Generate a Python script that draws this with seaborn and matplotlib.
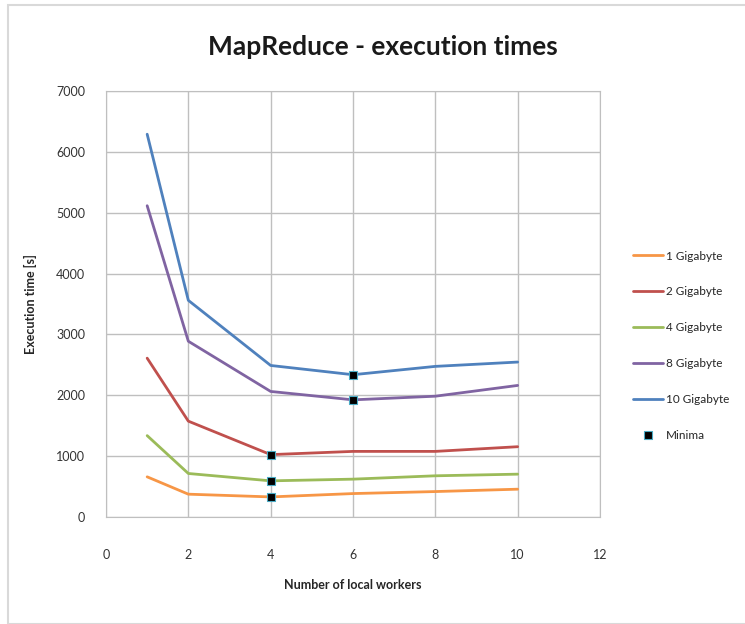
import matplotlib
matplotlib.use("Agg")
import matplotlib.pyplot as plt
import seaborn as sns
import pandas as pd
from matplotlib.patches import Rectangle

workers = [1, 2, 4, 6, 8, 10]
series_names = ["1 Gigabyte", "2 Gigabyte", "4 Gigabyte", "8 Gigabyte", "10 Gigabyte"]
gb1 = [660, 375, 330, 385, 418, 457]
gb2 = [2610, 1575, 1025, 1078, 1078, 1155]
gb4 = [1337, 715, 594, 622, 677, 704]
gb8 = [5115, 2888, 2063, 1925, 1985, 2162]
gb10 = [6290, 3560, 2490, 2338, 2475, 2546]
minima_x = [4, 4, 4, 6, 6]
minima_y = [330, 594, 1025, 1925, 2338]
colors = ["#F79646", "#C0504D", "#9BBB59", "#8064A2", "#4F81BD"]

rows = []
for name, vals in zip(series_names, [gb1, gb2, gb4, gb8, gb10]):
    for w, v in zip(workers, vals):
        rows.append({"workers": w, "time": v, "series": name})
df = pd.DataFrame(rows)
mdf = pd.DataFrame({"workers": minima_x, "time": minima_y, "series": "Minima"})

sns.set_style("white")
plt.rcParams["font.family"] = ["Lato", "DejaVu Sans"]

fig = plt.figure(figsize=(7.45, 6.24), dpi=100)
ax = fig.add_axes([106 / 745, 1 - 517 / 624, (600 - 106) / 745, (517 - 91) / 624])

sns.lineplot(data=df, x="workers", y="time", hue="series", hue_order=series_names,
             palette=colors, linewidth=2.0, ax=ax, sort=False)
sns.scatterplot(data=mdf, x="workers", y="time", marker="s", color="black",
                edgecolor="#4BACC6", linewidth=0.8, s=30, ax=ax, label="Minima", zorder=5)

ax.set_xlim(0, 12)
ax.set_ylim(0, 7000)
ax.set_xticks(range(0, 13, 2))
ax.set_yticks(range(0, 7001, 1000))
ax.grid(True, color="#BFBFBF", linewidth=1.0)
ax.set_axisbelow(True)
for s in ax.spines.values():
    s.set_color("#BFBFBF")
ax.tick_params(axis="both", labelsize=9, length=5, color="#BFBFBF", direction="out", labelcolor="#333333")
ax.tick_params(axis="x", pad=18)
ax.tick_params(axis="y", pad=10)
ax.set_xlabel("Number of local workers", fontsize=9, fontweight="bold", labelpad=13)
ax.set_ylabel("Execution time [s]", fontsize=9, fontweight="bold", labelpad=14)

fig.text(383 / 745, 1 - 47 / 624, "MapReduce - execution times", ha="center", va="center",
         fontsize=19, fontweight="bold", color="#1a1a1a")

handles, labels = ax.get_legend_handles_labels()
leg = ax.legend(handles, labels, loc="upper left", bbox_to_anchor=(622 / 745, 1 - 240 / 624),
                bbox_transform=fig.transFigure, frameon=False, fontsize=8.5,
                labelspacing=2.1, handlelength=2.6, handletextpad=0.2)

fig.patches.append(Rectangle((8 / 745, 0), 1, 1 - 5 / 624, transform=fig.transFigure,
                             fill=False, edgecolor="#D9D9D9", linewidth=1.5))

fig.savefig("out.png", dpi=100)
